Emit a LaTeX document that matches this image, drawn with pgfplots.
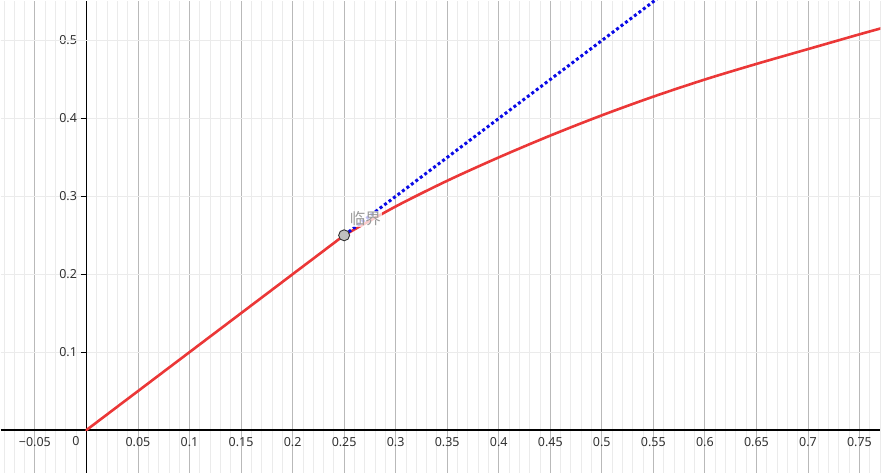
\documentclass[border=0pt]{standalone}
\usepackage{pgfplots}
\pgfplotsset{compat=1.18}
\usepackage{fontspec}
\setmainfont{Noto Sans}
\newfontfamily\cjk{Noto Sans CJK SC}
\definecolor{curvered}{RGB}{235,55,55}
\definecolor{dotblue}{RGB}{10,10,230}
\definecolor{majgrid}{RGB}{185,185,185}
\definecolor{mingrid}{RGB}{235,235,235}
\definecolor{ticktext}{RGB}{50,50,50}
\begin{document}
\begin{tikzpicture}
\begin{axis}[
  scale only axis,
  width=881pt, height=473pt,
  xmin=-0.0833, xmax=0.7703,
  ymin=-0.0551, ymax=0.5513,
  axis lines=middle,
  axis line style={black, line width=1.2pt, -},
  xtick={-0.05,0.05,0.1,0.15,0.2,0.25,0.3,0.35,0.4,0.45,0.5,0.55,0.6,0.65,0.7,0.75},
  xticklabels={−0.05,0.05,0.1,0.15,0.2,0.25,0.3,0.35,0.4,0.45,0.5,0.55,0.6,0.65,0.7,0.75},
  ytick={0.1,0.2,0.3,0.4,0.5},
  yticklabels={0.1,0.2,0.3,0.4,0.5},
  minor xtick={-0.08,-0.07,-0.06,-0.04,-0.03,-0.02,-0.01,
    0.01,0.02,0.03,0.04,0.06,0.07,0.08,0.09,0.11,0.12,0.13,0.14,0.16,0.17,0.18,0.19,
    0.21,0.22,0.23,0.24,0.26,0.27,0.28,0.29,0.31,0.32,0.33,0.34,0.36,0.37,0.38,0.39,
    0.41,0.42,0.43,0.44,0.46,0.47,0.48,0.49,0.51,0.52,0.53,0.54,0.56,0.57,0.58,0.59,
    0.61,0.62,0.63,0.64,0.66,0.67,0.68,0.69,0.71,0.72,0.73,0.74,0.76,0.77},
  extra y ticks={0.5},
  extra y tick labels={},
  extra y tick style={grid style={majgrid, line width=0.9pt}, major tick length=0pt},
  xmajorgrids, xminorgrids, ymajorgrids,
  major grid style={majgrid, line width=0.9pt},
  minor grid style={mingrid, line width=0.8pt},
  y grid style={mingrid, line width=0.9pt},
  minor tick length=0pt,
  xtick style={draw=none},
  ytick style={black, line width=1pt},
  ytick align=outside,
  major tick length=5pt,
  tick label style={font=\fontsize{12.5}{14}\selectfont, text=ticktext},
  xticklabel style={yshift=-1pt},
  yticklabel style={xshift=-1pt},
  clip=true,
]
% linear part
\addplot[curvered, line width=2.6pt, line cap=round] coordinates {
  (0,0) (0.25,0.25)
};
% curved part after the critical point
\addplot[curvered, line width=2.6pt, smooth, line cap=round] coordinates {
  (0.25,0.250) (0.30,0.287) (0.35,0.320) (0.40,0.350) (0.45,0.378)
  (0.50,0.404) (0.55,0.428) (0.60,0.450) (0.65,0.470) (0.70,0.489)
  (0.75,0.508) (0.78,0.519)
};
% dotted continuation
\addplot[dotblue, line width=3pt, dash pattern=on 3pt off 2.6pt] coordinates {
  (0.25,0.25) (0.58,0.58)
};
\node[anchor=west, inner sep=1pt, fill=white, fill opacity=0.75, text opacity=1,
  text=black!40, font=\cjk\fontsize{15.5}{16}\selectfont]
  at (axis cs:0.2545,0.271) {临界};
% critical point
\addplot[only marks, mark=*, mark size=5.5pt,
  mark options={fill=black!25, draw=black!80, line width=0.9pt}] coordinates {
  (0.25,0.25)
};
\node[anchor=north east, inner sep=0pt, text=ticktext, font=\fontsize{12.5}{14}\selectfont]
  at (axis cs:-0.0065,-0.0085) {0};
\end{axis}
\end{tikzpicture}
\end{document}
